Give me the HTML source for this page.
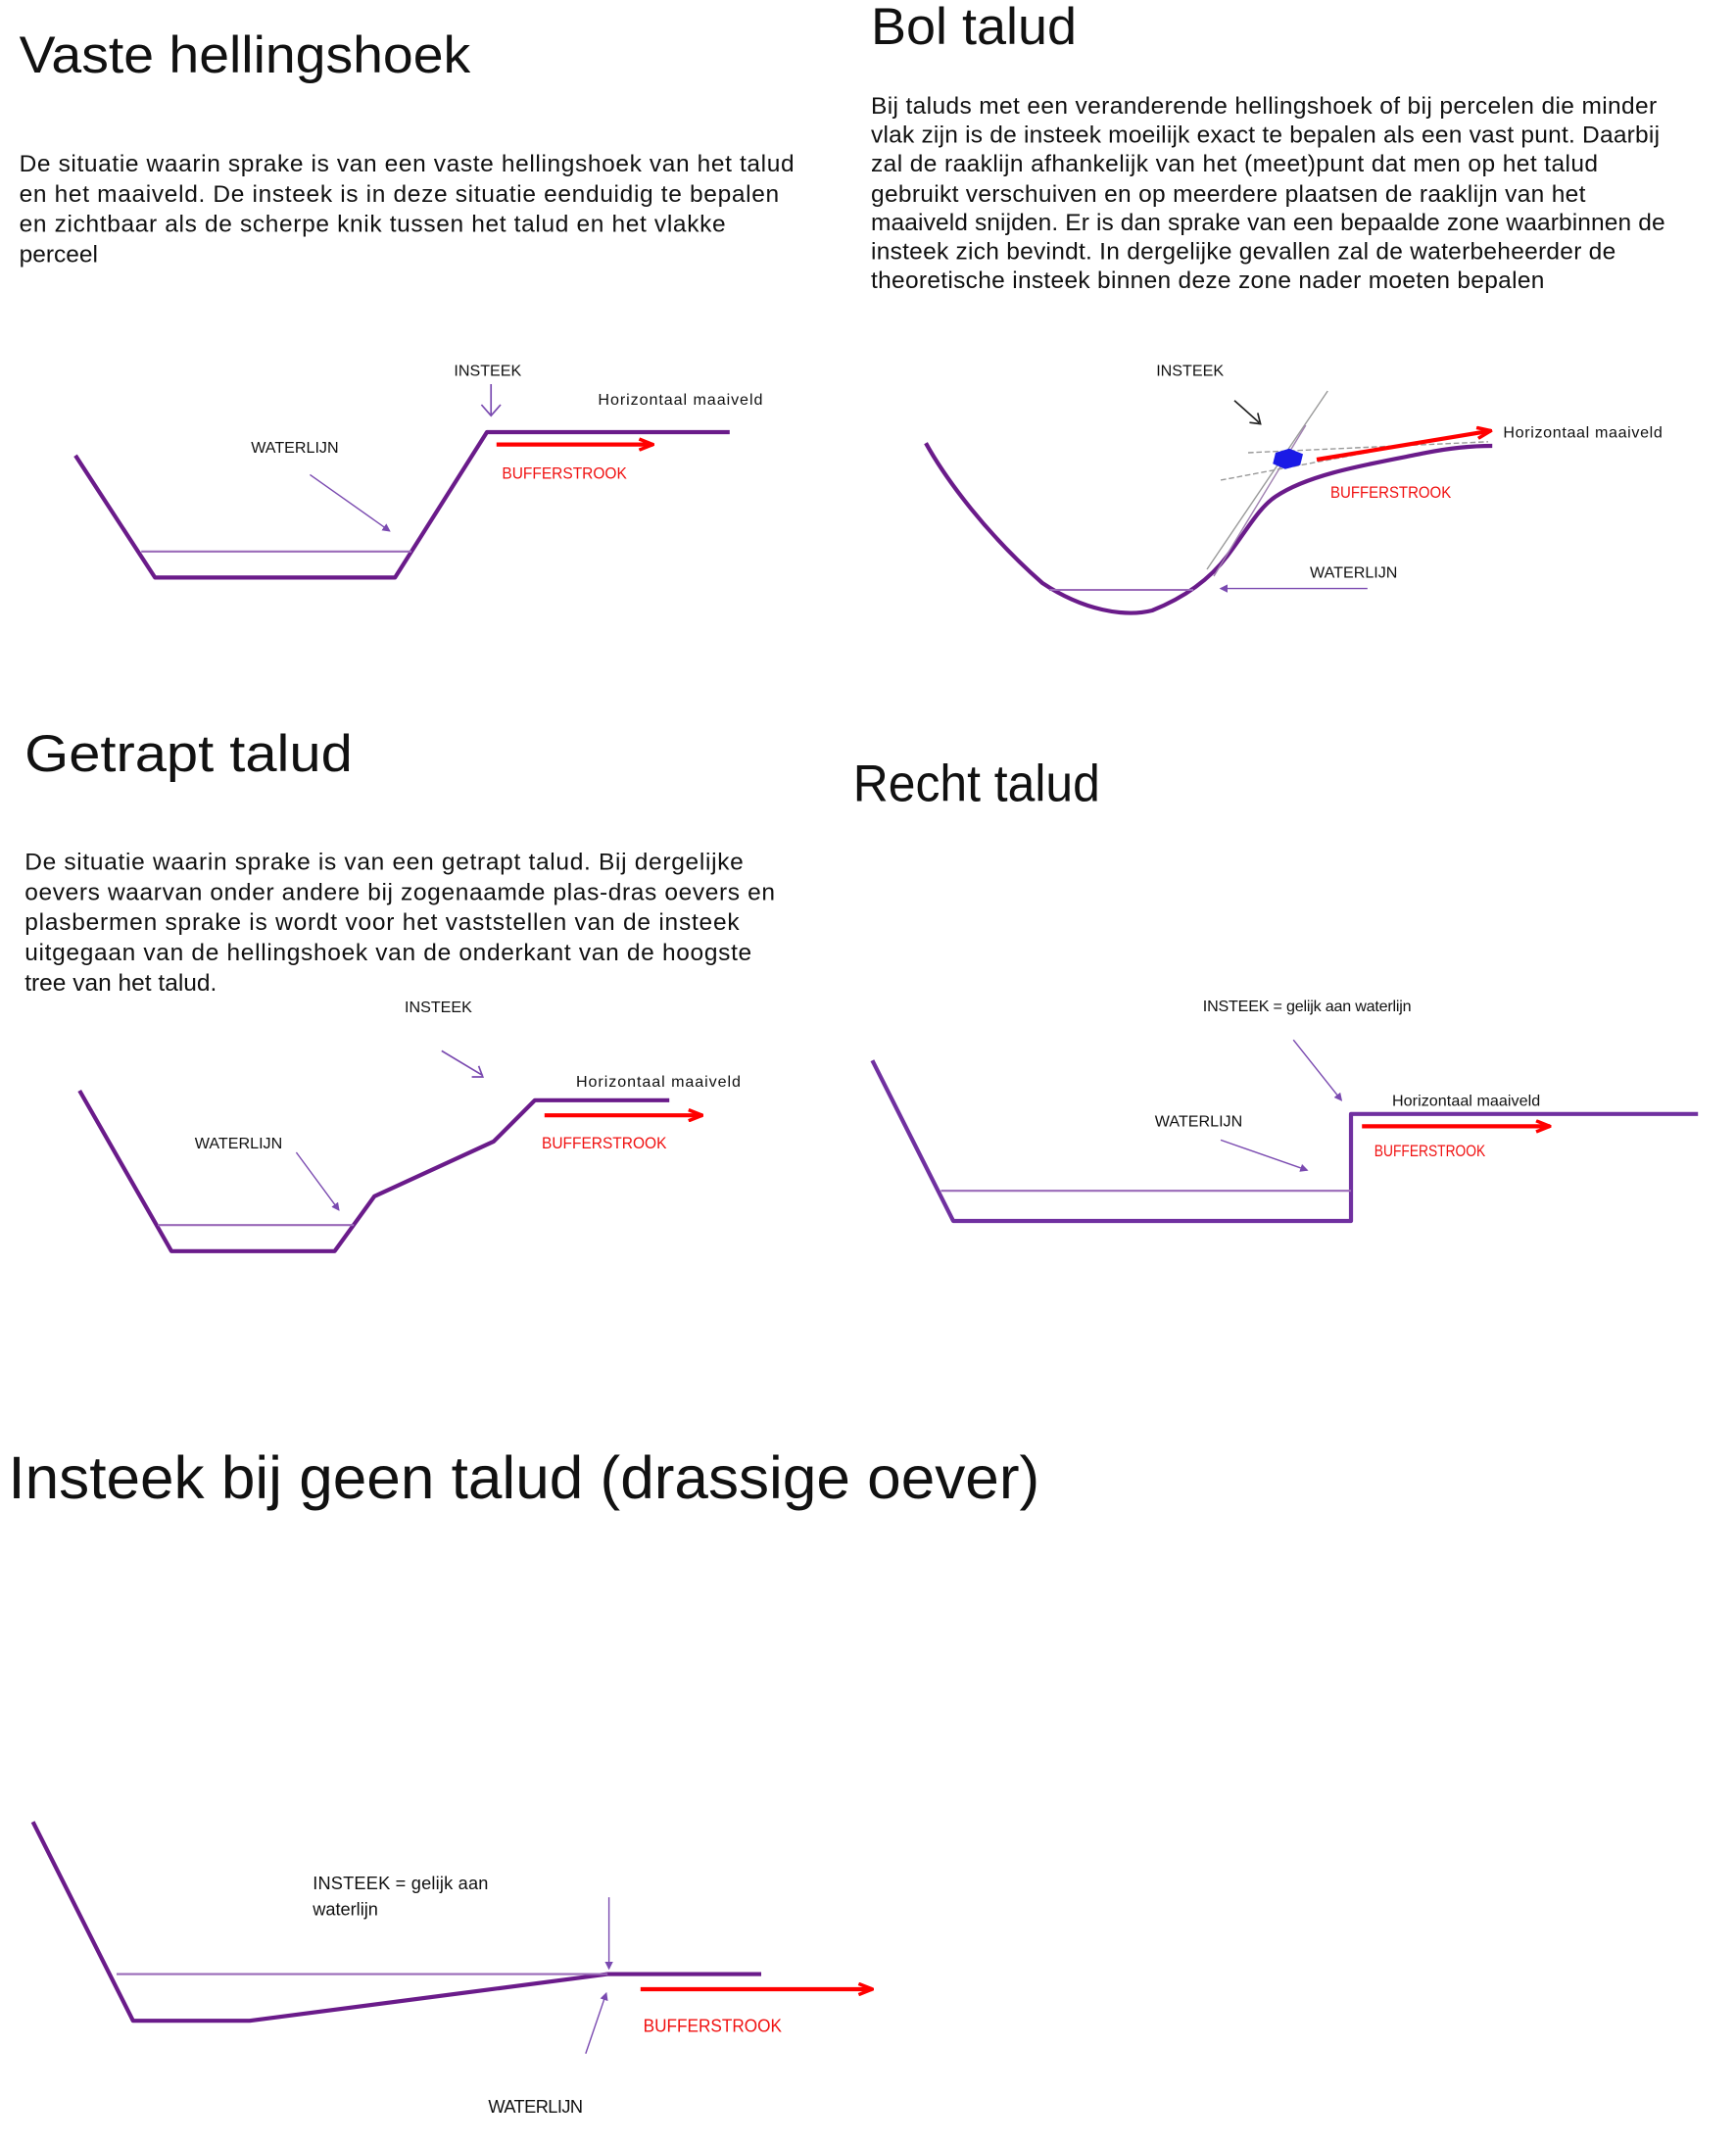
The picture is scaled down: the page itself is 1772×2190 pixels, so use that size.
<!DOCTYPE html>
<html><head><meta charset="utf-8"><style>
html,body{margin:0;padding:0;background:#fff;}
svg{display:block;}
text{font-family:"Liberation Sans",sans-serif;fill:#111;}
.t{font-size:38px;}
.p{font-size:17.5px;}
.s{font-size:11.5px;}
.r{font-size:12px;fill:#f01010;}
.pl{fill:none;stroke:#6a1b8a;stroke-width:3;stroke-linejoin:round;}
.wl{stroke:#9a6ab8;stroke-width:1.5;fill:none;}
.ar{stroke:#7a4ab0;stroke-width:1;fill:none;}
.red{stroke:#f00;stroke-width:3;fill:none;}
</style></head><body>
<svg width="1772" height="2190" viewBox="0 0 1265.7 1564.3" preserveAspectRatio="none" xmlns="http://www.w3.org/2000/svg">
<defs>
<marker id="rh" markerWidth="12" markerHeight="10" refX="11" refY="5" orient="auto" markerUnits="userSpaceOnUse"><path d="M1,1 L11,5 L1,9" fill="none" stroke="#f00" stroke-width="2.5"/></marker>
<marker id="ph" markerWidth="6" markerHeight="6" refX="5" refY="3" orient="auto" markerUnits="userSpaceOnUse"><path d="M0,0 L6,3 L0,6z" fill="#7a4ab0"/></marker>
</defs>

<!-- Vaste hellingshoek -->
<text x="14" y="53" class="t" textLength="329" lengthAdjust="spacingAndGlyphs">Vaste hellingshoek</text>
<text class="p" x="14" y="125" textLength="565">De situatie waarin sprake is van een vaste hellingshoek van het talud</text>
<text class="p" x="14" y="147" textLength="554">en het maaiveld. De insteek is in deze situatie eenduidig te bepalen</text>
<text class="p" x="14" y="169" textLength="515">en zichtbaar als de scherpe knik tussen het talud en het vlakke</text>
<text class="p" x="14" y="191">perceel</text>
<polyline class="pl" points="55,332 113,421 288,421 355,315 532,315"/>
<line class="wl" x1="103" y1="402" x2="300" y2="402"/>
<line class="red" x1="362" y1="324" x2="476" y2="324" marker-end="url(#rh)"/>
<text class="s" x="331" y="274">INSTEEK</text>
<path d="M358,280 L358,302 M351,295 L358,303 L365,295" stroke="#7a4ab0" fill="none" stroke-width="1.2"/>
<text class="s" x="436" y="295" textLength="120">Horizontaal maaiveld</text>
<text class="s" x="183" y="330">WATERLIJN</text>
<line class="ar" x1="226" y1="346" x2="284" y2="387" marker-end="url(#ph)"/>
<text class="r" x="366" y="349" textLength="91" lengthAdjust="spacingAndGlyphs">BUFFERSTROOK</text>

<!-- Bol talud -->
<text x="635" y="32" class="t" textLength="150" lengthAdjust="spacingAndGlyphs">Bol talud</text>
<text class="p" x="635" y="83" textLength="573">Bij taluds met een veranderende hellingshoek of bij percelen die minder</text>
<text class="p" x="635" y="104" textLength="575">vlak zijn is de insteek moeilijk exact te bepalen als een vast punt. Daarbij</text>
<text class="p" x="635" y="125" textLength="530">zal de raaklijn afhankelijk van het (meet)punt dat men op het talud</text>
<text class="p" x="635" y="147" textLength="521">gebruikt verschuiven en op meerdere plaatsen de raaklijn van het</text>
<text class="p" x="635" y="168" textLength="579">maaiveld snijden. Er is dan sprake van een bepaalde zone waarbinnen de</text>
<text class="p" x="635" y="189" textLength="543">insteek zich bevindt. In dergelijke gevallen zal de waterbeheerder de</text>
<text class="p" x="635" y="210" textLength="491">theoretische insteek binnen deze zone nader moeten bepalen</text>
<path class="pl" d="M675,323 C690,350 720,390 760,425 C790,445 820,450 840,445 C860,437 880,425 895,405 C910,385 918,370 930,362 C955,345 1000,338 1040,330 C1060,326 1075,325 1088,325"/>
<line class="wl" x1="765" y1="430" x2="870" y2="430"/>
<line x1="880" y1="415" x2="968" y2="285" stroke="#999" stroke-width="1"/>
<line x1="885" y1="420" x2="952" y2="310" stroke="#a080b0" stroke-width="1"/>
<line x1="890" y1="350" x2="1060" y2="318" stroke="#999" stroke-width="1" stroke-dasharray="4,2"/>
<line x1="910" y1="330" x2="1085" y2="322" stroke="#999" stroke-width="1" stroke-dasharray="4,2"/>
<polygon points="930,330 940,327 950,331 948,339 937,342 928,338" fill="#1a1ae6"/>
<line class="red" x1="960" y1="335" x2="1087" y2="314" marker-end="url(#rh)"/>
<text class="s" x="843" y="274">INSTEEK</text>
<path d="M900,292 L918,308 M911,308 L919,309 L917,301" stroke="#222" fill="none" stroke-width="1.2"/>
<text class="s" x="1096" y="319" textLength="116">Horizontaal maaiveld</text>
<text class="r" x="970" y="363" textLength="88" lengthAdjust="spacingAndGlyphs">BUFFERSTROOK</text>
<text class="s" x="955" y="421">WATERLIJN</text>
<line class="ar" x1="997" y1="429" x2="890" y2="429" marker-end="url(#ph)"/>

<!-- Getrapt talud -->
<text x="18" y="562" class="t" textLength="239" lengthAdjust="spacingAndGlyphs">Getrapt talud</text>
<text class="p" x="18" y="634" textLength="524">De situatie waarin sprake is van een getrapt talud. Bij dergelijke</text>
<text class="p" x="18" y="656" textLength="547">oevers waarvan onder andere bij zogenaamde plas-dras oevers en</text>
<text class="p" x="18" y="678" textLength="521">plasbermen sprake is wordt voor het vaststellen van de insteek</text>
<text class="p" x="18" y="700" textLength="530">uitgegaan van de hellingshoek van de onderkant van de hoogste</text>
<text class="p" x="18" y="722">tree van het talud.</text>
<polyline class="pl" points="58,795 125,912 244,912 273,872 360,832 390,802 488,802"/>
<line class="wl" x1="115" y1="893" x2="258" y2="893"/>
<line class="red" x1="397" y1="813" x2="512" y2="813" marker-end="url(#rh)"/>
<text class="s" x="295" y="738">INSTEEK</text>
<path d="M322,766 L352,784 M344,785 L352,785 L349,777" stroke="#7a4ab0" fill="none" stroke-width="1.2"/>
<text class="s" x="420" y="792" textLength="120">Horizontaal maaiveld</text>
<text class="s" x="142" y="837">WATERLIJN</text>
<line class="ar" x1="216" y1="840" x2="247" y2="882" marker-end="url(#ph)"/>
<text class="r" x="395" y="837" textLength="91" lengthAdjust="spacingAndGlyphs">BUFFERSTROOK</text>

<!-- Recht talud -->
<text x="622" y="584" class="t" textLength="180" lengthAdjust="spacingAndGlyphs">Recht talud</text>
<polyline class="pl" points="636,773 695,890 985,890 985,812 1238,812" style="stroke:#7030a0"/>
<line class="wl" x1="686" y1="868" x2="985" y2="868"/>
<line class="red" x1="993" y1="821" x2="1130" y2="821" marker-end="url(#rh)"/>
<text class="s" x="877" y="737" textLength="152">INSTEEK = gelijk aan waterlijn</text>
<line class="ar" x1="943" y1="758" x2="978" y2="802" marker-end="url(#ph)"/>
<text class="s" x="1015" y="806" textLength="108">Horizontaal maaiveld</text>
<text class="s" x="842" y="821">WATERLIJN</text>
<line class="ar" x1="890" y1="831" x2="953" y2="853" marker-end="url(#ph)"/>
<text class="r" x="1002" y="843" textLength="81" lengthAdjust="spacingAndGlyphs">BUFFERSTROOK</text>

<!-- Insteek bij geen talud -->
<text x="6" y="1092" style="font-size:44px" textLength="752" lengthAdjust="spacingAndGlyphs">Insteek bij geen talud (drassige oever)</text>
<polyline class="pl" points="24,1328 97,1473 182,1473 443,1439 555,1439"/>
<line class="wl" x1="85" y1="1439" x2="443" y2="1439"/>
<line class="red" x1="467" y1="1450" x2="636" y2="1450" marker-end="url(#rh)"/>
<text x="228" y="1377" style="font-size:13px" textLength="128">INSTEEK = gelijk aan</text>
<text x="228" y="1396" style="font-size:13px">waterlijn</text>
<line class="ar" x1="444" y1="1383" x2="444" y2="1435" marker-end="url(#ph)"/>
<line class="ar" x1="427" y1="1497" x2="442" y2="1453" marker-end="url(#ph)"/>
<text class="r" x="469" y="1481" style="font-size:13.5px" textLength="101" lengthAdjust="spacingAndGlyphs">BUFFERSTROOK</text>
<text x="356" y="1540" style="font-size:13px" textLength="69">WATERLIJN</text>
</svg>
</body></html>
